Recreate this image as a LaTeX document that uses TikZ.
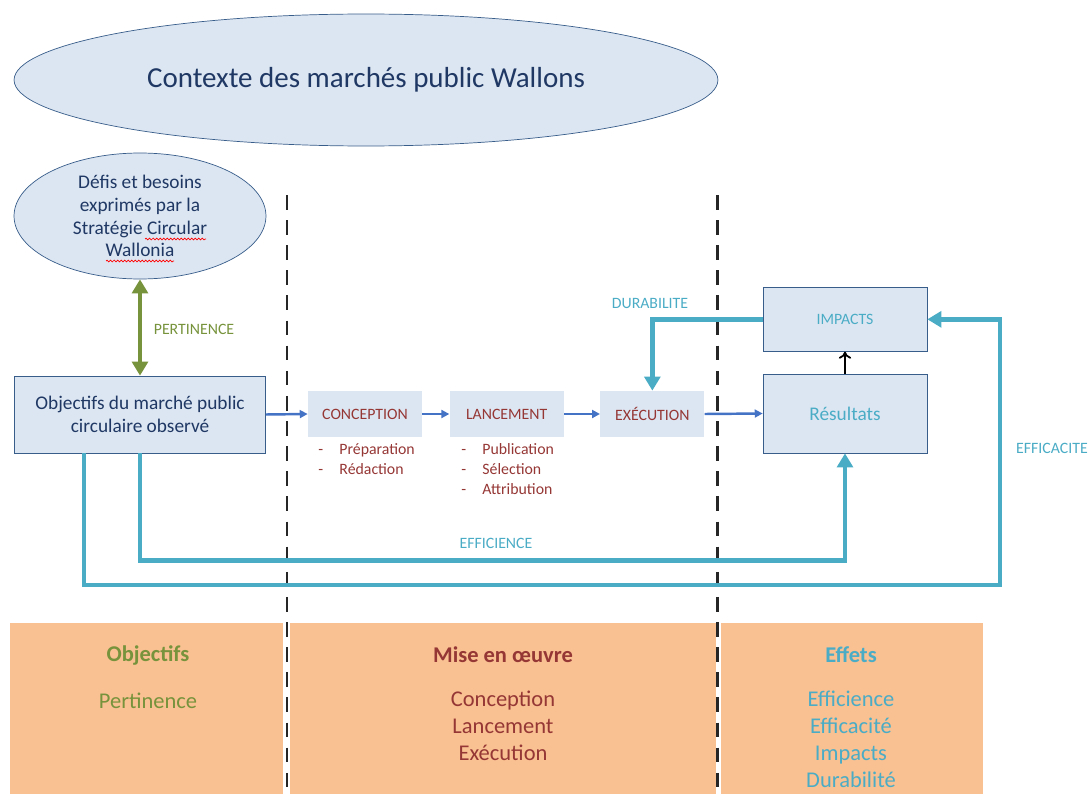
\documentclass[tikz,border=0pt]{standalone}
\usepackage{fontspec}
\setmainfont{Carlito}
\usepackage{tikz}
\usetikzlibrary{shapes,arrows.meta,backgrounds,positioning,decorations.pathmorphing}
\definecolor{bleuclair}{RGB}{220,230,242}
\definecolor{bleubord}{RGB}{56,93,138}
\definecolor{bleunuit}{RGB}{31,56,100}
\definecolor{vertpert}{RGB}{119,147,60}
\definecolor{rougemo}{RGB}{149,55,53}
\definecolor{turq}{RGB}{75,172,198}
\definecolor{bleufl}{RGB}{68,114,196}
\definecolor{saumon}{RGB}{249,192,145}
\tikzset{
  ell/.style = {ellipse, draw=bleubord, fill=bleuclair, text=bleunuit,
    align=center, inner sep=0pt},% ellipse de contexte
  boite/.style = {rectangle, draw=bleubord, fill=bleuclair, align=center,
    inner sep=0pt},% boite bordee
  etape/.style = {rectangle, fill=bleuclair, text=rougemo, inner sep=0pt,
    font=\fontsize{9}{11}\selectfont, minimum height=0.92cm},% etape, sans bord
  lbl/.style = {inner sep=0pt, font=\fontsize{9}{11.3}\selectfont},% petit texte
  fleche/.style = {-{Triangle[length=4.5pt,width=4.5pt]}, draw=bleufl,
    line width=1.4pt},% fleche du processus
  evalfl/.style = {-{Triangle[length=8pt,width=9pt]}, draw=turq,
    line width=2.8pt},% critere d'evaluation
  vertfl/.style = {{Triangle[length=8pt,width=9pt]}-{Triangle[length=8pt,width=9pt]},
    draw=vertpert, line width=2.8pt},% pertinence
  separ/.style = {draw=black!85, line width=1.7pt,
    dash pattern=on 8.3pt off 6pt},% separation des phases
  souligne/.style = {draw=red, line width=0.4pt, decorate,
    decoration={snake, amplitude=0.5pt, segment length=2pt}},% correcteur
  titre/.style = {inner sep=0pt, font=\bfseries\fontsize{12.8}{15.3}\selectfont},
  colonne/.style = {inner sep=0pt, anchor=north, align=center,
    font=\fontsize{12.8}{15.3}\selectfont}
}

\begin{document}
\begin{tikzpicture}[x=0.02cm, y=-0.02cm]
        \useasboundingbox (0,0) rectangle (1089,794);
        % panneaux du bas
        \fill[saumon] (10,623) rectangle (283,794);
        \fill[saumon] (290,623) rectangle (716,794);
        \fill[saumon] (721,623) rectangle (983,794);
        \draw[separ] (287,195) -- (287,794);
        \draw[separ] (717,195) -- (717,794);

        \node [ell, minimum width=14.08cm, minimum height=2.64cm,
          font=\fontsize{16.5}{20}\selectfont](ctx) at (366,80)
          {Contexte des marchés public Wallons};
        \node [ell, minimum width=5.04cm, minimum height=2.52cm,
          font=\fontsize{11}{13}\selectfont](defis) at (140,216)
          {Défis et besoins\\exprimés par la\\Stratégie Circular\\Wallonia};
        \draw[souligne] (145,239) -- (206,239);
        \draw[souligne] (106,261) -- (174,261);
        \node [boite, minimum width=5.02cm, minimum height=1.54cm, text=bleunuit,
          font=\fontsize{11}{13}\selectfont](obj) at (140,414.5)
          {Objectifs du marché public\\circulaire observé};

        \node [etape, minimum width=2.28cm](conc) at (365,414) {CONCEPTION};
        \node [etape, minimum width=2.28cm, right= 0.54cm of conc](lanc) {LANCEMENT};
        \node [etape, minimum width=2.08cm, right= 0.72cm of lanc](exec) {EXÉCUTION};

        \node [boite, minimum width=3.28cm, minimum height=1.58cm, text=turq,
          font=\fontsize{11}{13}\selectfont](res) at (845,413.5) {Résultats};
        \node [boite, minimum width=3.28cm, minimum height=1.28cm, text=turq,
          font=\fontsize{9}{11}\selectfont, above= 0.44cm of res](imp) {IMPACTS};

        \node [lbl, text=rougemo, align=left, anchor=north west](lconc) at (318,443)
          {\makebox[12pt][l]{-}Préparation\\\makebox[12pt][l]{-}Rédaction};
        \node [lbl, text=rougemo, align=left, anchor=north west](llanc) at (461,443)
          {\makebox[12pt][l]{-}Publication\\\makebox[12pt][l]{-}Sélection\\\makebox[12pt][l]{-}Attribution};

        \node [lbl, text=vertpert](lpert) at (194,329) {PERTINENCE};
        \node [lbl, text=turq](ldur) at (650,303) {DURABILITE};
        \node [lbl, text=turq](leffi) at (496,543) {EFFICIENCE};
        \node [lbl, text=turq](leffa) at (1052,448) {EFFICACITE};

        \coordinate (coin) at (1000,585);
        \draw[vertfl] (defis.south) -- (obj.north);
        \draw[fleche] (obj.east) -- (conc.west);
        \draw[fleche] (conc) -- (lanc);
        \draw[fleche] (lanc) -- (exec);
        \draw[fleche] (exec.east) -- (res.west);
        \draw[-{To[length=4pt,width=7pt]}, line width=1pt] (res) -- (imp);
        \draw[evalfl] (imp.west) -| (exec.north);
        \draw[evalfl] (obj.south) -- ++(0,107) -| (res.south);
        \draw[evalfl] ([xshift=-1.12cm]obj.south) |- (coin) |- (imp.east);

        % colonnes du bas
        \node [titre, text=vertpert](tobj) at (148,655) {Objectifs};
        \node [colonne, text=vertpert, below= 0.55cm of tobj](cobj) {Pertinence};
        \node [titre, text=rougemo](tmise) at (503,655) {Mise en œuvre};
        \node [colonne, text=rougemo, below= 0.55cm of tmise](cmise)
          {Conception\\Lancement\\Exécution};
        \node [titre, text=turq](teff) at (851,655) {Effets};
        \node [colonne, text=turq, below= 0.55cm of teff](ceff)
          {Efficience\\Efficacité\\Impacts\\Durabilité};
        \end{tikzpicture}
\end{document}
